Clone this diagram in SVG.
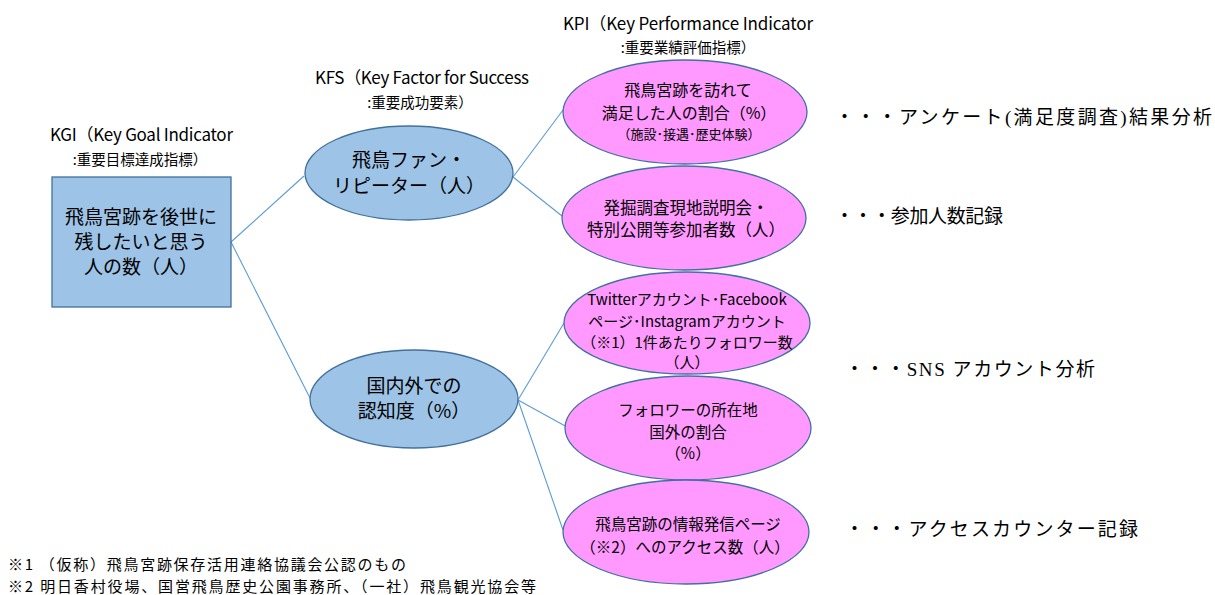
<svg xmlns="http://www.w3.org/2000/svg" width="1215" height="595" viewBox="0 0 1215 595">
<style>
.t{font-family:"Noto Sans CJK JP","Noto Sans",sans-serif;fill:#000;text-anchor:middle}
.n{font-family:"Noto Sans CJK JP","Noto Sans",sans-serif;fill:#000}
.s{font-family:"Liberation Serif","Noto Sans CJK JP",serif;fill:#000}
.blue{fill:#9dc3e6;stroke:#41719c;stroke-width:1.3}
.pink{fill:#ff99ff;stroke:#41719c;stroke-width:1.3}
.c{stroke:#5b9bd5;stroke-width:1.1;fill:none}
</style>
<rect width="1215" height="595" fill="#fff"/>
<g id="connectors">
<line class="c" x1="231" y1="242" x2="304" y2="176"/>
<line class="c" x1="231" y1="242" x2="310" y2="398"/>
<line class="c" x1="513" y1="177" x2="563" y2="110"/>
<line class="c" x1="513" y1="177" x2="562" y2="216"/>
<line class="c" x1="518" y1="400" x2="564" y2="323"/>
<line class="c" x1="518" y1="400" x2="567" y2="427"/>
<line class="c" x1="518" y1="400" x2="563" y2="530"/>
</g>
<g id="labels">
<text class="n" x="50" y="141" font-size="17" textLength="183">KGI（Key Goal Indicator</text>
<text class="t" x="140" y="165" font-size="14.5">:重要目標達成指標）</text>
<text class="n" x="315" y="84" font-size="17" textLength="214">KFS（Key Factor for Success</text>
<text class="t" x="420" y="108" font-size="14.5">:重要成功要素）</text>
<text class="n" x="563" y="30" font-size="17" textLength="250">KPI（Key Performance Indicator</text>
<text class="t" x="688" y="53" font-size="14.5">:重要業績評価指標）</text>
</g>
<g id="kgi">
<rect class="blue" x="52" y="177" width="179" height="130"/>
<text class="t" x="141" y="224" font-size="19">飛鳥宮跡を後世に</text>
<text class="t" x="141" y="249" font-size="19">残したいと思う</text>
<text class="t" x="141" y="274" font-size="19">人の数（人）</text>
</g>
<g id="kfs1">
<ellipse class="blue" cx="409" cy="173" rx="104" ry="47"/>
<text class="t" x="409" y="167" font-size="19">飛鳥ファン・</text>
<text class="t" x="409" y="193" font-size="19">リピーター（人）</text>
</g>
<g id="kfs2">
<ellipse class="blue" cx="414" cy="399" rx="104" ry="49"/>
<text class="t" x="414" y="393" font-size="19">国内外での</text>
<text class="t" x="414" y="418" font-size="19">認知度（%）</text>
</g>
<g id="kpi1">
<ellipse class="pink" cx="685" cy="112" rx="122" ry="52"/>
<text class="t" x="688" y="96" font-size="16">飛鳥宮跡を訪れて</text>
<text class="t" x="689" y="119" font-size="16">満足した人の割合（%）</text>
<text class="t" x="689" y="139" font-size="13">（施設･接遇･歴史体験）</text>
</g>
<g id="kpi2">
<ellipse class="pink" cx="684" cy="218" rx="122" ry="52"/>
<text class="t" x="686" y="214" font-size="16.5">発掘調査現地説明会・</text>
<text class="t" x="686" y="236" font-size="16.5">特別公開等参加者数（人）</text>
</g>
<g id="kpi3">
<ellipse class="pink" cx="687" cy="323" rx="123" ry="51"/>
<text class="t" x="687" y="305" font-size="15">Twitterアカウント･Facebook</text>
<text class="t" x="687" y="327" font-size="15">ページ･Instagramアカウント</text>
<text class="t" x="687" y="348" font-size="15">（※1）1件あたりフォロワー数</text>
<text class="t" x="687" y="368" font-size="15">（人）</text>
</g>
<g id="kpi4">
<ellipse class="pink" cx="688" cy="428" rx="123" ry="52"/>
<text class="t" x="688" y="416" font-size="15.5">フォロワーの所在地</text>
<text class="t" x="688" y="438" font-size="15.5">国外の割合</text>
<text class="t" x="688" y="459" font-size="15.5">（%）</text>
</g>
<g id="kpi5">
<ellipse class="pink" cx="686" cy="532" rx="123" ry="52"/>
<text class="t" x="688" y="530" font-size="15.5">飛鳥宮跡の情報発信ページ</text>
<text class="t" x="685" y="553" font-size="15.5">（※2）へのアクセス数（人）</text>
</g>
<g id="notes">
<text class="s" x="835" y="124" font-size="19" textLength="377">・・・アンケート(満足度調査)結果分析</text>
<text class="s" x="835" y="223" font-size="19" textLength="168">・・・参加人数記録</text>
<text class="s" x="845" y="376" font-size="19" textLength="250">・・・SNS アカウント分析</text>
<text class="s" x="845" y="536" font-size="19" textLength="293">・・・アクセスカウンター記録</text>
<text class="n" x="8" y="570" font-size="15" textLength="398">※1 （仮称）飛鳥宮跡保存活用連絡協議会公認のもの</text>
<text class="n" x="8" y="592" font-size="15" textLength="528">※2 明日香村役場、国営飛鳥歴史公園事務所、（一社）飛鳥観光協会等</text>
</g>
</svg>
